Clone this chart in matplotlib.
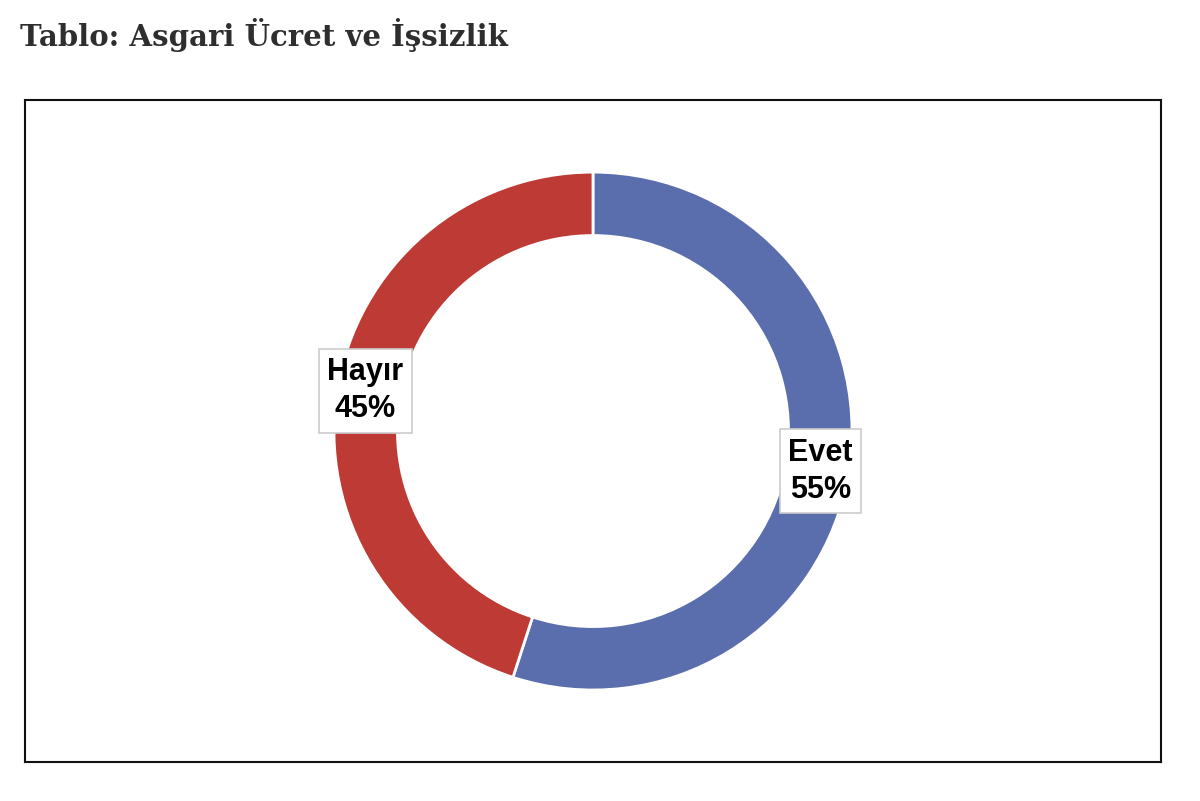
import numpy as np
import matplotlib.pyplot as plt

labels = ['Evet', 'Hayır']
shares = [55, 45]
colors = ['#5A6DAD', '#BE3A35']

fig = plt.figure(figsize=(12, 8.01), dpi=100)
fig.text(0.017, 0.956, 'Tablo: Asgari Ücret ve İşsizlik', fontsize=21,
         fontweight='bold', family='DejaVu Serif', color='#2e2e2e', va='center')

ax = fig.add_axes([0.0208, 0.0487, 0.9467, 0.8263])
wedges, _ = ax.pie(shares, colors=colors, startangle=90, counterclock=False,
                   radius=1, wedgeprops=dict(width=0.245, edgecolor='white', linewidth=2))

# labels sit on the ring, at the middle of each wedge
for w, lab, val in zip(wedges, labels, shares):
    ang = np.deg2rad((w.theta1 + w.theta2) / 2)
    r = 0.89
    ax.text(r * np.cos(ang), r * np.sin(ang) * 1.12, f'{lab}\n{val}%', ha='center', va='center',
            fontsize=22, fontweight='bold', family='Liberation Sans', linespacing=1.3,
            bbox=dict(boxstyle='square,pad=0.28', facecolor='white', edgecolor='#cccccc', linewidth=1.2))

ax.set_aspect('auto')
ax.set_xlim(-568 / 259, 568 / 259)
ax.set_ylim(-331 / 259, 331 / 259)
ax.set_frame_on(True)
for s in ax.spines.values():
    s.set_color('#111111')
    s.set_linewidth(1.5)
ax.set_xticks([])
ax.set_yticks([])

fig.savefig('out.png', dpi=100)
